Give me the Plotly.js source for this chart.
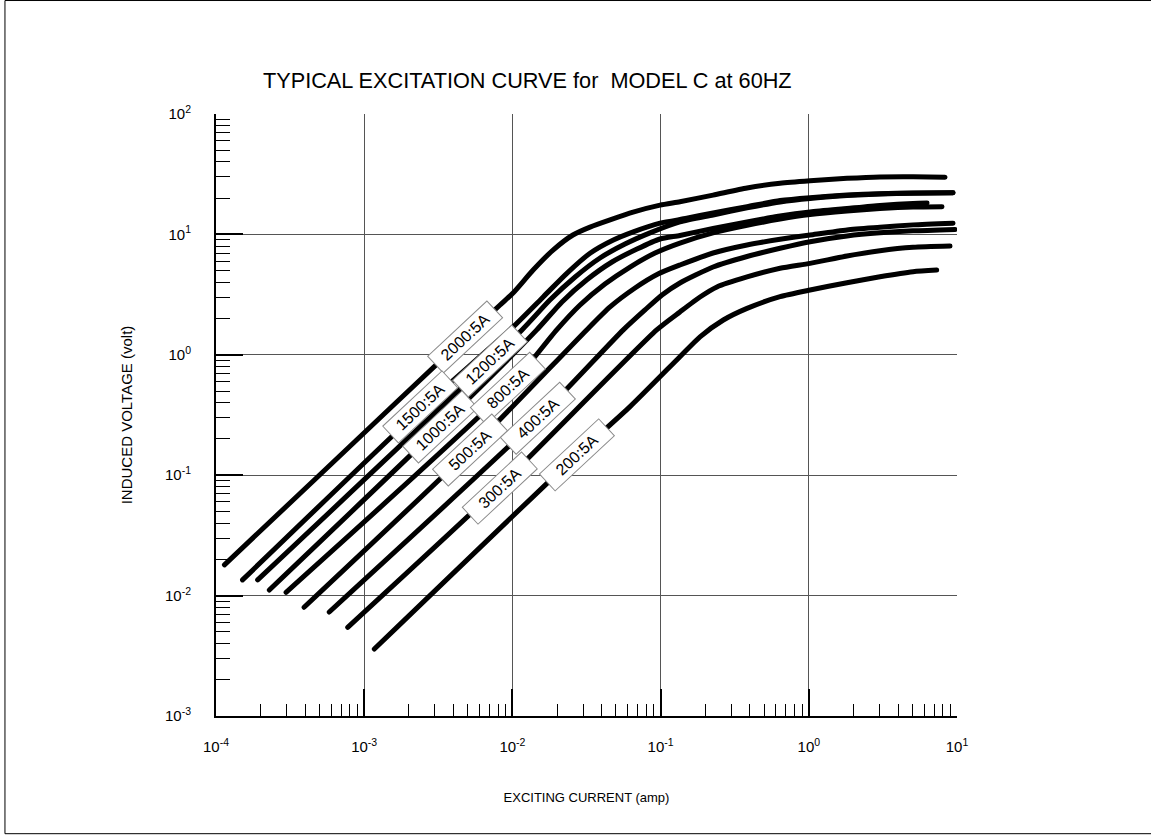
<!DOCTYPE html>
<html>
<head>
<meta charset="utf-8">
<script src="https://cdn.plot.ly/plotly-3.0.1.min.js"></script>
<style>
html, body { margin: 0; padding: 0; background: #fff; }
#chart { width: 1151px; height: 835px; }
.scatterlayer .js-line { stroke-linecap: round; stroke-linejoin: round; }
</style>
</head>
<body>
<div id="chart"></div>
<script>
// ---- Data (exciting current in A, induced voltage in V) ----
const ratios = ['2000:5A', '1500:5A', '1200:5A', '1000:5A', '800:5A', '500:5A', '400:5A', '300:5A', '200:5A'];

const i2000 = [1.14e-4, 4.98e-4, 4.79e-3, 8.25e-3, 0.0101, 0.0138, 0.0188, 0.0256, 0.0334, 0.0456, 0.0652, 0.0991, 0.135, 0.226, 0.383, 0.640, 1.02, 1.81, 3.02, 5.05, 8.30];
const v2000 = [0.0180, 0.100, 1.39, 2.59, 3.26, 5.06, 7.41, 9.89, 11.5, 13.2, 15.3, 17.5, 18.7, 21.2, 24.3, 26.6, 27.9, 29.2, 30.0, 30.1, 29.9];

const i1500 = [1.51e-4, 2.38e-3, 9.63e-3, 0.0162, 0.0233, 0.0334, 0.048, 0.0654, 0.0991, 0.150, 0.226, 0.383, 0.640, 1.02, 1.81, 3.02, 5.05, 9.40];
const v1500 = [0.0135, 0.348, 1.61, 3.04, 4.75, 6.97, 8.98, 10.5, 12.4, 13.6, 15.1, 17.0, 19.1, 20.2, 21.2, 21.8, 22.1, 22.2];

const i1200 = [1.91e-4, 0.0116, 0.0179, 0.0265, 0.039, 0.0575, 0.0848, 0.135, 0.226, 0.383, 0.640, 1.02, 1.81, 3.02, 5.05, 9.40];
const v1200 = [0.0135, 1.61, 2.85, 4.43, 6.37, 8.32, 10.3, 12.7, 14.5, 16.6, 18.6, 19.9, 21.0, 21.7, 22.0, 22.2];

const i1000 = [2.29e-4, 3.25e-3, 0.0146, 0.0216, 0.0318, 0.047, 0.0693, 0.0991, 0.135, 0.226, 0.383, 0.640, 1.02, 1.81, 3.02, 5.05, 6.28];
const v1000 = [0.01113, 0.253, 1.61, 2.75, 4.20, 5.90, 7.56, 9.16, 9.80, 11.2, 12.7, 14.2, 15.35, 16.4, 17.4, 18.1, 18.2];

const i800 = [2.97e-4, 9.38e-3, 0.0199, 0.0286, 0.0421, 0.0622, 0.0917, 0.135, 0.226, 0.383, 0.640, 1.02, 1.81, 3.02, 5.05, 7.92];
const v800 = [0.01065, 0.527, 1.61, 2.59, 3.87, 5.36, 7.01, 8.48, 10.3, 11.9, 13.4, 14.6, 15.65, 16.4, 16.9, 17.0];

const i500 = [3.93e-4, 5.18e-3, 0.0317, 0.0456, 0.0672, 0.096, 0.135, 0.226, 0.383, 0.640, 1.02, 1.81, 3.02, 5.05, 9.40];
const v500 = [0.0080, 0.162, 1.61, 2.50, 3.59, 4.69, 5.57, 7.01, 8.17, 9.11, 9.89, 10.9, 11.45, 12.0, 12.4];

const i400 = [5.81e-4, 0.01495, 0.056, 0.0785, 0.1022, 0.135, 0.226, 0.383, 0.640, 1.02, 1.81, 3.02, 5.05, 9.70];
const v400 = [0.00731, 0.297, 1.61, 2.36, 3.14, 3.95, 5.36, 6.55, 7.67, 8.70, 9.70, 10.3, 10.7, 11.0];

const i300 = [7.74e-4, 8.25e-3, 0.0941, 0.135, 0.1845, 0.240, 0.383, 0.640, 1.02, 1.81, 3.02, 5.05, 8.97];
const v300 = [0.00545, 0.0813, 1.61, 2.27, 3.02, 3.66, 4.43, 5.23, 5.75, 6.62, 7.32, 7.81, 8.0];

const i200 = [1.17e-3, 0.0272, 0.0622, 0.135, 0.1845, 0.265, 0.383, 0.640, 1.02, 1.81, 3.02, 5.05, 7.29];
const v200 = [0.0036, 0.147, 0.371, 0.964, 1.41, 1.945, 2.43, 3.04, 3.45, 3.97, 4.45, 4.90, 5.06];

// label positions on the curves
const labelI = [4.79e-3, 2.38e-3, 7.06e-3, 3.25e-3, 9.38e-3, 5.18e-3, 0.01495, 8.25e-3, 0.0272];
const labelV = [1.41, 0.371, 0.888, 0.253, 0.527, 0.162, 0.297, 0.0778, 0.147];

// axis ticks
const xTickVals = [1e-4, 1e-3, 1e-2, 1e-1, 1, 10];
const xTickText = ['10<sup>-4</sup>', '10<sup>-3</sup>', '10<sup>-2</sup>', '10<sup>-1</sup>', '10<sup>0</sup>', '10<sup>1</sup>'];
const yTickVals = [1e-3, 1e-2, 1e-1, 1, 10, 100];
const yTickText = ['10<sup>-3</sup>', '10<sup>-2</sup>', '10<sup>-1</sup>', '10<sup>0</sup>', '10<sup>1</sup>', '10<sup>2</sup>'];

const titleText = 'TYPICAL EXCITATION CURVE for  MODEL C at 60HZ';
const xTitle = 'EXCITING CURRENT (amp)';
const yTitle = 'INDUCED VOLTAGE (volt)';

// ---- build ----
const seriesI = [i2000, i1500, i1200, i1000, i800, i500, i400, i300, i200];
const seriesV = [v2000, v1500, v1200, v1000, v800, v500, v400, v300, v200];

const traces = seriesI.map((xs, k) => ({
  type: 'scatter', mode: 'lines', name: ratios[k],
  x: xs, y: seriesV[k],
  line: { color: '#000', width: 5, shape: 'spline', smoothing: 0.6 },
  hoverinfo: 'x+y+name'
}));

function minorVals(lo, hi) {
  const out = [];
  for (let e = lo; e < hi; e++) for (let d = 2; d <= 9; d++) out.push(d * Math.pow(10, e));
  return out;
}

const FONT = 'Arial, "Liberation Sans", sans-serif';

const annotations = ratios.map((t, k) => ({
  x: Math.log10(labelI[k]), y: Math.log10(labelV[k]), xref: 'x', yref: 'y',
  text: t, showarrow: false, textangle: -43,
  font: { family: FONT, size: 16, color: '#000' },
  bgcolor: '#fff', bordercolor: '#8a8a8a', borderwidth: 1, borderpad: 2,
  width: 76, height: 18
}));

const layout = {
  width: 1151, height: 835,
  margin: { l: 216, r: 194, t: 114, b: 119 },
  paper_bgcolor: '#fff', plot_bgcolor: '#fff',
  showlegend: false,
  font: { family: FONT, color: '#000', size: 13 },
  title: {
    text: titleText, font: { family: FONT, size: 21.7, color: '#000' },
    xref: 'paper', x: 0.0634, xanchor: 'left',
    yref: 'container', y: 0.904, yanchor: 'middle'
  },
  xaxis: {
    type: 'log', range: [-4, 1],
    tickmode: 'array', tickvals: xTickVals, ticktext: xTickText,
    ticks: 'inside', ticklen: 27, tickwidth: 1.5, tickcolor: '#000',
    ticklabelstandoff: 16,
    tickfont: { family: FONT, size: 15, color: '#000' },
    showgrid: true, gridcolor: '#555', gridwidth: 1,
    showline: true, linecolor: '#000', linewidth: 2, mirror: false,
    minor: { tickmode: 'array', tickvals: minorVals(-4, 1), ticks: 'inside', ticklen: 12, tickwidth: 1, tickcolor: '#000', showgrid: false },
    title: { text: xTitle, font: { family: FONT, size: 13, color: '#000' }, standoff: 39 },
    zeroline: false, automargin: false
  },
  yaxis: {
    type: 'log', range: [-3, 2],
    tickmode: 'array', tickvals: yTickVals, ticktext: yTickText,
    ticks: 'inside', ticklen: 27, tickwidth: 1.5, tickcolor: '#000',
    ticklabelstandoff: 20,
    tickfont: { family: FONT, size: 15, color: '#000' },
    showgrid: true, gridcolor: '#555', gridwidth: 1,
    showline: true, linecolor: '#000', linewidth: 2, mirror: false,
    minor: { tickmode: 'array', tickvals: minorVals(-3, 2), ticks: 'inside', ticklen: 14, tickwidth: 1, tickcolor: '#000', showgrid: false },
    title: { text: yTitle, font: { family: FONT, size: 15, color: '#000' }, standoff: 29 },
    zeroline: false, automargin: false
  },
  annotations: annotations,
  shapes: [
    { type: 'rect', xref: 'paper', yref: 'paper', x0: -0.2848, x1: 1.32, y0: -0.1955, y1: 1.1885,
      line: { color: '#000', width: 1 }, fillcolor: 'rgba(0,0,0,0)', layer: 'below' }
  ]
};

Plotly.newPlot('chart', traces, layout, { displayModeBar: false });
</script>
</body>
</html>
